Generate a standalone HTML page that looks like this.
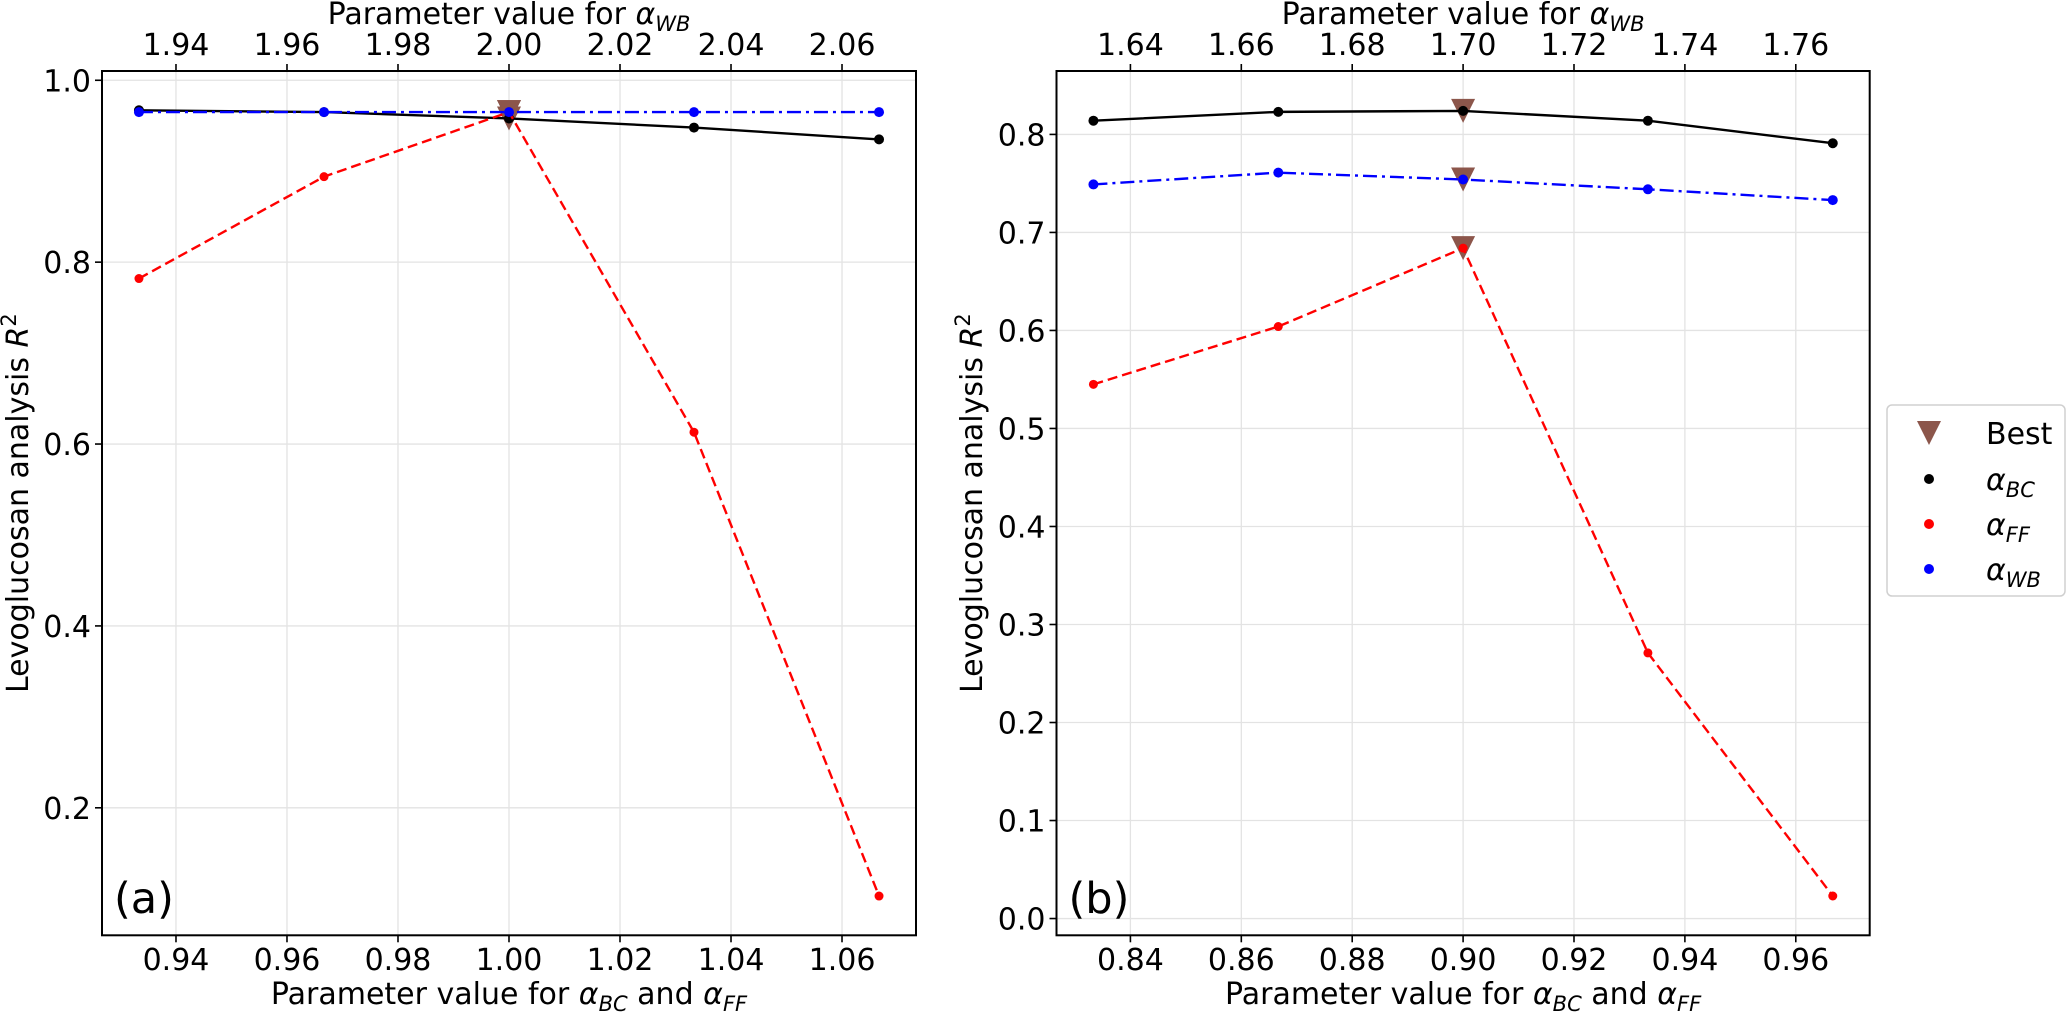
<!DOCTYPE html>
<html><head><meta charset="utf-8">
<style>
html,body{margin:0;padding:0;background:#fff;}
svg{display:block;font-family:"DejaVu Sans","Liberation Sans",sans-serif;}
</style></head>
<body>
<svg id="fig" width="2067" height="1012" viewBox="0 0 2067 1012" xmlns="http://www.w3.org/2000/svg"></svg>
<script>
// ---- data ----
const xBottomA = [0.93333, 0.96667, 1.0, 1.03333, 1.06667];
const xTopA = [1.93333, 1.96667, 2.0, 2.03333, 2.06667];
const bcA = [0.967, 0.965, 0.958, 0.948, 0.935];
const ffA = [0.782, 0.894, 0.965, 0.613, 0.103];
const wbA = [0.965, 0.965, 0.965, 0.965, 0.965];
const bestXA = [1.0, 1.0, 1.0];
const bestYA = [0.958, 0.965, 0.965];
const xTicksA = [0.94, 0.96, 0.98, 1.00, 1.02, 1.04, 1.06];
const xTopTicksA = [1.94, 1.96, 1.98, 2.00, 2.02, 2.04, 2.06];
const yTicksA = [0.2, 0.4, 0.6, 0.8, 1.0];

const xBottomB = [0.83333, 0.86667, 0.9, 0.93333, 0.96667];
const xTopB = [1.63333, 1.66667, 1.7, 1.73333, 1.76667];
const bcB = [0.814, 0.823, 0.824, 0.814, 0.791];
const ffB = [0.545, 0.604, 0.684, 0.271, 0.023];
const wbB = [0.749, 0.761, 0.754, 0.744, 0.733];
const bestXB = [0.9, 0.9, 0.9];
const bestYB = [0.824, 0.754, 0.684];
const xTicksB = [0.84, 0.86, 0.88, 0.90, 0.92, 0.94, 0.96];
const xTopTicksB = [1.64, 1.66, 1.68, 1.70, 1.72, 1.74, 1.76];
const yTicksB = [0.0, 0.1, 0.2, 0.3, 0.4, 0.5, 0.6, 0.7, 0.8];

const NS = "http://www.w3.org/2000/svg";
const svg = document.getElementById('fig');
function mk(tag, attrs, parent) {
  const e = document.createElementNS(NS, tag);
  for (const k in attrs) e.setAttribute(k, attrs[k]);
  (parent || svg).appendChild(e);
  return e;
}

function panel(cfg) {
  const g = mk('g', {});
  
  
  const L = cfg.left, R = cfg.right, T = 71, B = 935.3;
  const sx = v => L + (v - cfg.xmin) / (cfg.xmax - cfg.xmin) * (R - L);
  const sxt = v => L + (v - cfg.txmin) / (cfg.txmax - cfg.txmin) * (R - L);
  const sy = v => B - (v - cfg.ymin) / (cfg.ymax - cfg.ymin) * (B - T);

  // grid
  cfg.xTicks.forEach(t => {
    const l = mk('line', {x1: sx(t), x2: sx(t), y1: T, y2: B, stroke: '#e3e3e3', 'stroke-width': 1.3}, g);
    
    
  });
  cfg.yTicks.forEach(t => {
    const l = mk('line', {x1: L, x2: R, y1: sy(t), y2: sy(t), stroke: '#e3e3e3', 'stroke-width': 1.3}, g);
    
    
  });

  // best markers
  cfg.bestX.forEach((bx, i) => {
    const cx = sx(bx), cy = sy(cfg.bestY[i]);
    const p = mk('polygon', {points: `${cx-12},${cy-12} ${cx+12},${cy-12} ${cx},${cy+12}`, fill: '#8c564b'}, g);
    
    
  });

  function series(xs, ys, scale, color, dash, r, name) {
    const pts = xs.map((x, i) => scale(x) + ',' + sy(ys[i])).join(' ');
    const pl = mk('polyline', {points: pts, fill: 'none', stroke: color, 'stroke-width': 2.4, 'stroke-dasharray': dash}, g);
    
    
    xs.forEach((x, i) => {
      const c = mk('circle', {cx: scale(x), cy: sy(ys[i]), r: r, fill: color}, g);
      
      
    });
  }
  series(cfg.xB, cfg.bc, sx, '#000', 'none', 5, 'alpha-bc');
  series(cfg.xB, cfg.ff, sx, '#ff0000', '10,5', 4.5, 'alpha-ff');
  series(cfg.xT, cfg.wb, sxt, '#0000ff', '14,5,3,5', 5, 'alpha-wb');

  // frame
  const fr = mk('rect', {x: L, y: T, width: R - L, height: B - T, fill: 'none', stroke: '#000', 'stroke-width': 2}, g);
  
  

  // ticks bottom
  cfg.xTicks.forEach(t => {
    mk('line', {x1: sx(t), x2: sx(t), y1: B, y2: B + 7, stroke: '#000', 'stroke-width': 1.6}, g);
    const tx = mk('text', {x: sx(t), y: 970, 'font-size': 30, 'text-anchor': 'middle'}, g);
    tx.textContent = t.toFixed(2);
    
    
  });
  cfg.xTopTicks.forEach(t => {
    mk('line', {x1: sxt(t), x2: sxt(t), y1: T, y2: T - 7, stroke: '#000', 'stroke-width': 1.6}, g);
    const tx = mk('text', {x: sxt(t), y: 55, 'font-size': 30, 'text-anchor': 'middle'}, g);
    tx.textContent = t.toFixed(2);
    
    
  });
  cfg.yTicks.forEach(t => {
    mk('line', {x1: L, x2: L - 7, y1: sy(t), y2: sy(t), stroke: '#000', 'stroke-width': 1.6}, g);
    const tx = mk('text', {x: L - 11, y: sy(t) + 11, 'font-size': 30, 'text-anchor': 'end'}, g);
    tx.textContent = t.toFixed(1);
    
    
  });

  const mid = (L + R) / 2;
  const xl = mk('text', {x: mid, y: 1004, 'font-size': 30, 'text-anchor': 'middle'}, g);
  xl.innerHTML = 'Parameter value for <tspan font-style="italic">α</tspan><tspan font-style="italic" font-size="21" dy="7">BC</tspan><tspan dy="-7"> and </tspan><tspan font-style="italic">α</tspan><tspan font-style="italic" font-size="21" dy="7">FF</tspan>';
  
  

  const tl = mk('text', {x: mid, y: 24, 'font-size': 30, 'text-anchor': 'middle'}, g);
  tl.innerHTML = 'Parameter value for <tspan font-style="italic">α</tspan><tspan font-style="italic" font-size="21" dy="7">WB</tspan>';
  
  

  const yl = mk('text', {x: 0, y: 0, 'font-size': 30, 'text-anchor': 'middle', transform: `translate(${cfg.ylabelX},${(T + B) / 2}) rotate(-90)`}, g);
  yl.innerHTML = 'Levoglucosan analysis <tspan font-style="italic">R</tspan><tspan font-size="21" dy="-12">2</tspan>';
  
  

  const pl = mk('text', {x: L + 12, y: 913, 'font-size': 43}, g);
  pl.textContent = cfg.label;
  
  
}

panel({name: 'panel-a', left: 102, right: 916, xmin: 0.92667, xmax: 1.07333, txmin: 1.92667, txmax: 2.07333,
  ymin: 0.0598, ymax: 1.0102, xB: xBottomA, xT: xTopA, bc: bcA, ff: ffA, wb: wbA, bestX: bestXA, bestY: bestYA,
  xTicks: xTicksA, xTopTicks: xTopTicksA, yTicks: yTicksA, ylabelX: 28, label: '(a)'});
panel({name: 'panel-b', left: 1056.5, right: 1869.7, xmin: 0.82667, xmax: 0.97333, txmin: 1.62667, txmax: 1.77333,
  ymin: -0.0171, ymax: 0.8647, xB: xBottomB, xT: xTopB, bc: bcB, ff: ffB, wb: wbB, bestX: bestXB, bestY: bestYB,
  xTicks: xTicksB, xTopTicks: xTopTicksB, yTicks: yTicksB, ylabelX: 982, label: '(b)'});

// legend
const lg = mk('g', {});


mk('rect', {x: 1887, y: 405, width: 178, height: 191, rx: 5, fill: '#fff', stroke: '#d0d0d0', 'stroke-width': 1.5}, lg);
const entries = [
  {t: 'Best', sub: '', c: '#8c564b', tri: true, y: 433},
  {t: 'α', sub: 'BC', c: '#000', y: 479},
  {t: 'α', sub: 'FF', c: '#ff0000', y: 524},
  {t: 'α', sub: 'WB', c: '#0000ff', y: 569}
];
entries.forEach(e => {
  const eg = mk('g', {}, lg);
  
  
  if (e.tri) mk('polygon', {points: `1917,${e.y-12} 1941,${e.y-12} 1929,${e.y+12}`, fill: '#8c564b'}, eg);
  else mk('circle', {cx: 1929, cy: e.y, r: 5, fill: e.c}, eg);
  const t = mk('text', {x: 1986, y: e.y + 11, 'font-size': 30}, eg);
  if (e.sub) t.innerHTML = '<tspan font-style="italic">α</tspan><tspan font-style="italic" font-size="21" dy="7">' + e.sub + '</tspan>';
  else t.textContent = e.t;
});
</script>
</body></html>
